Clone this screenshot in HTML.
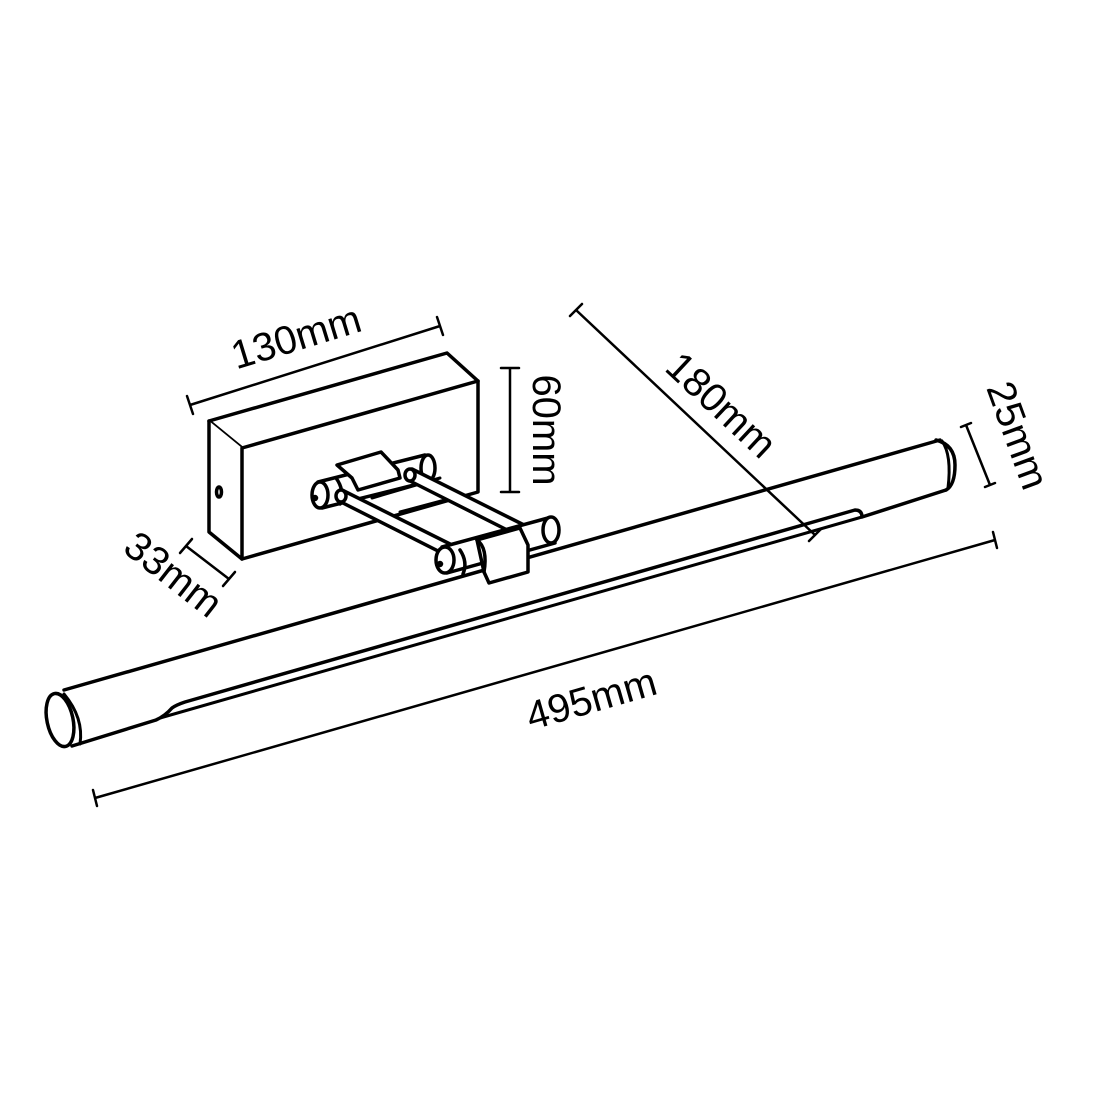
<!DOCTYPE html>
<html><head><style>
html,body{margin:0;padding:0;background:#fff;width:1100px;height:1100px;overflow:hidden}
svg{display:block}
text{font-family:"Liberation Sans",sans-serif;font-size:40px;fill:#000}
</style></head><body>
<svg width="1100" height="1100" viewBox="0 0 1100 1100" xmlns="http://www.w3.org/2000/svg">
<g fill="none" stroke="#000" stroke-width="3.5" stroke-linejoin="round" stroke-linecap="round">
<!-- bar -->
<path d="M64,690 L940,440" />
<path d="M72,746 L156,720 Q165,716 172,708 Q176,705 185,702 L855,510 Q862,510 862,517 L946,490" />
<path d="M160,718 L862,517" stroke-width="3"/>
<ellipse cx="60" cy="720" rx="13" ry="27" transform="rotate(-12 60 720)" fill="#fff"/>
<path d="M64,694 Q84,718 80,744" stroke-width="3"/>
<path d="M936,440 Q955,445 955,465 Q955,485 946,490" />
<path d="M942,441 Q952,455 948,488" stroke-width="3"/>
<!-- box -->
<path d="M209,421 L447,353 L478,381 L242,448 Z" fill="#fff"/>
<path d="M209,421 L209,532 L242,559 L242,448" fill="#fff"/>
<path d="M242,559 L478,492 L478,381" />
<ellipse cx="219" cy="492" rx="2.5" ry="5" />
<!-- plate under rods -->
<path d="M372,498 L440,478 M400,512 L445,500" stroke-width="3"/>
<!-- back cylinder -->
<path d="M318,482 L425,455 L430,481 L322,508 Z" fill="#fff"/>
<ellipse cx="428" cy="468" rx="7" ry="13" fill="#fff"/>
<path d="M336,478 Q345,490 340,504"/>
<ellipse cx="320" cy="495" rx="8" ry="13" fill="#fff"/>
<circle cx="315" cy="498" r="1.5" fill="#000"/>
<!-- back clamp -->
<path d="M337,465 L381,452 L398,470 L400,478 L358,490 L352,478 Z" fill="#fff"/>
<!-- rods -->
<path d="M342,490 L456,547 L452,558 L339,501 Z" fill="#fff"/>
<path d="M412,469 L526,526 L521,537 L408,480 Z" fill="#fff"/>
<ellipse cx="341" cy="496" rx="5" ry="6" fill="#fff"/>
<ellipse cx="410" cy="475" rx="5" ry="6" fill="#fff"/>
<!-- front cylinder -->
<path d="M442,547 L548,518 L555,543 L447,573 Z" fill="#fff"/>
<ellipse cx="551" cy="530" rx="8" ry="13" fill="#fff"/>
<ellipse cx="445" cy="560" rx="9" ry="13" fill="#fff"/>
<path d="M460,550 Q468,562 463,574"/>
<circle cx="440" cy="564" r="1.5" fill="#000"/>
<!-- front clamp -->
<path d="M477,540 L520,528 L528,545 L528,572 L489,583 L484,572 Z" fill="#fff"/>
<path d="M477,540 Q488,548 484,572"/>
</g>
<!-- dimension lines -->
<g stroke="#000" stroke-width="2.5" fill="none" stroke-linecap="round">
<path d="M190,405 L440,326 M187,396 L193,414 M437,317 L443,335"/>
<path d="M510,368 L510,492 M501,368 L519,368 M501,492 L519,492"/>
<path d="M186,546 L229,579 M180,553 L192,539 M223,586 L235,572"/>
<path d="M576,310 L815,535 M570,316 L582,304 M809,541 L821,529"/>
<path d="M966,425 L990,485 M961,427 L971,423 M985,487 L995,483"/>
<path d="M95,798 L995,540 M93,790 L97,806 M993,532 L997,548"/>
</g>
<text transform="translate(300,350) rotate(-17)" text-anchor="middle">130mm</text>
<text transform="translate(533,430) rotate(90)" text-anchor="middle">60mm</text>
<text transform="translate(165,585) rotate(38)" text-anchor="middle">33mm</text>
<text transform="translate(712,415) rotate(43)" text-anchor="middle">180mm</text>
<text transform="translate(1005,440) rotate(70)" text-anchor="middle">25mm</text>
<text transform="translate(595,712) rotate(-16)" text-anchor="middle">495mm</text>
</svg>
</body></html>
